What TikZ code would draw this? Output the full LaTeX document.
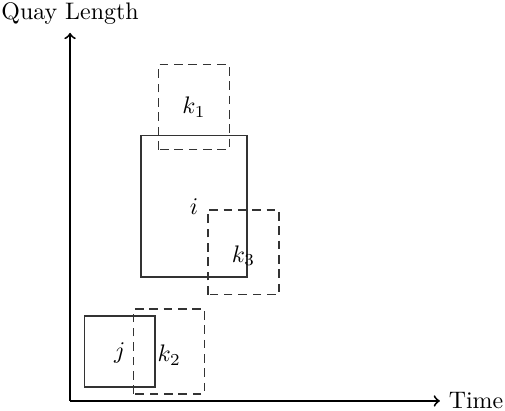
\documentclass[tikz,border=0pt]{standalone}
\usepackage{tikz}
\usepackage{amsmath, amssymb}
\usetikzlibrary{positioning, calc}
\tikzset{
    axisline/.style={->, thick, black},
    berth/.style={draw=black!80, line width=0.6pt},
    request/.style={draw=black!80, line width=0.6pt, dash pattern=on 3.6pt off 2.4pt},
    tag/.style={inner sep=1pt},
}

\begin{document}
\begin{tikzpicture}[x=0.52cm, y=0.52cm]
    % fixed frame
    \useasboundingbox (-1.98,-0.28) rectangle (12.29,11.33);

    % --- AXES ---
    \coordinate (O) at (0,0);
    \coordinate (xend) at (10.45,0);
    \coordinate (yend) at (0,10.4);
    \draw[axisline] (O) -- (xend) node[right] (tlabel) {Time};
    \draw[axisline] (O) -- (yend) node[above] (qlabel) {Quay Length};

    % --- BERTHED VESSELS ---
    \draw[berth] (2,3.5) rectangle (5,7.5);
    \node[tag] (i) at (3.5,5.5) {$i$};

    \draw[berth] (0.4,0.4) rectangle (2.4,2.4);
    \node[tag] (j) at (1.4,1.35) {$j$};

    % --- CANDIDATE POSITIONS ---
    \draw[request] (2.5,7.1) rectangle (4.5,9.5);
    \node[tag] (k1) at (3.5,8.3) {$k_1$};

    \draw[request] (1.8,0.2) rectangle (3.8,2.6);
    \node[tag] (k2) at (2.8,1.3) {$k_2$};

    \draw[request] (3.9,3.0) rectangle (5.9,5.4);
    \node[tag] (k3) at (4.9,4.1) {$k_3$};
\end{tikzpicture}
\end{document}
